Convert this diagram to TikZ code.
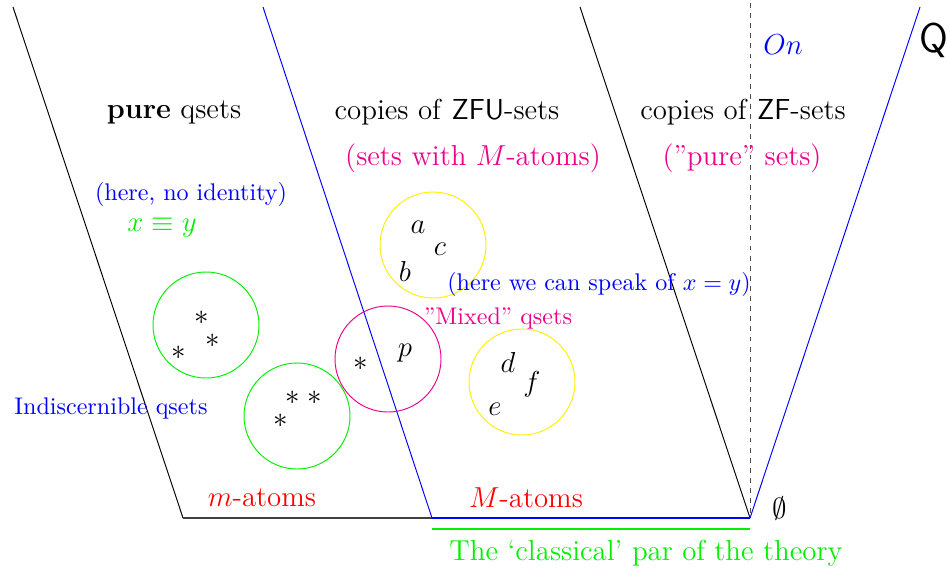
\documentclass[tikz,border=0pt]{standalone}
\usepackage{tikz}
\usetikzlibrary{positioning}
\usepackage{amsmath}
\definecolor{qblue}   {RGB}{0,   0,   255}
\definecolor{qgreen}  {RGB}{0,   240, 0}
\definecolor{qred}    {RGB}{255, 0,   0}
\definecolor{qyellow} {RGB}{255, 240, 0}
\definecolor{qmagenta}{RGB}{236, 0,   140}
\tikzset{
  qset/.style={
    circle, draw, minimum size=1.548cm, inner sep=0pt
  },
  zonelabel/.style={
    font=\large, inner sep=1pt
  },
  remark/.style={
    font=\normalsize, inner sep=1pt
  },
  elem/.style={
    font=\large, inner sep=0pt
  },
}

\begin{document}
\begin{tikzpicture}[x=0.0146cm, y=-0.0146cm]
  \useasboundingbox (0,0) rectangle (950,573);
  % corners of the universe
  \coordinate (tl) at (13,7);
  \coordinate (bl) at (183,518);
  \coordinate (tm) at (263,7);
  \coordinate (bm) at (432,518);
  \coordinate (tr) at (580,7);
  \coordinate (empty) at (750,518);
  \coordinate (tq) at (920,7);
  \coordinate (ontop) at (750,3);
  \coordinate (gl) at (432,529);
  \coordinate (gr) at (750,529);
  \draw (tl) -- (bl);
  \draw[thick, black!75] (bl) -- (bm);
  \draw[qblue] (tm) -- (bm);
  \draw[qblue, thick] (bm) -- (empty);
  \draw (tr) -- (empty);
  \draw[qblue] (empty) -- (tq);
  \draw[black!70, dash pattern=on 2pt off 2.2pt] (ontop) -- (empty);
  \draw[draw=qgreen, semithick] (gl) -- (gr);

  % the qsets
  \node[qset, draw=qgreen] (pureA) at (206,325) {};
  \node[qset, draw=qgreen] (pureB) at (297,416) {};
  \node[qset, draw=qmagenta] (mixed) at (388,359) {};
  \node[qset, draw=qyellow] (zfuA) at (433,245) {};
  \node[qset, draw=qyellow] (zfuB) at (522,382) {};

  \node[elem] (s1) at (202,318) {$*$};
  \node[elem] (s2) at (213,341) {$*$};
  \node[elem] (s3) at (179,353) {$*$};
  \node[elem] (s4) at (293,398) {$*$};
  \node[elem] (s5) at (315,398) {$*$};
  \node[elem] (s6) at (281,421) {$*$};
  \node[elem] (s7) at (361,364) {$*$};
  \node[elem] (p) at (405,353) {$p$};
  \node[elem] (a) at (418,227) {$a$};
  \node[elem] (c) at (440,249) {$c$};
  \node[elem] (b) at (405,271) {$b$};
  \node[elem] (d) at (508,362) {$d$};
  \node[elem] (f) at (532,384) {$f$};
  \node[elem] (e) at (495,409) {$e$};

  % zone labels
  \node[zonelabel] (pure) at (174,112) {\textbf{pure} qsets};
  \node[zonelabel] (zfu) at (447,112) {copies of \textsf{ZFU}-sets};
  \node[zonelabel, text=qmagenta] (zfunote) at (473,158) {(sets with $M$-atoms)};
  \node[zonelabel] (zf) at (743,112) {copies of \textsf{ZF}-sets};
  \node[zonelabel, text=qmagenta] (zfnote) at (742,158)
        {(\textquotedblright pure\textquotedblright{} sets)};
  \node[zonelabel, text=qblue] (on) at (783,45) {$On$};
  \node[font=\LARGE\sffamily] (q) at (934,40) {Q};
  \node[zonelabel] (emptyset) at (780,508) {$\emptyset$};
  \node[zonelabel, text=qred] (matoms) at (262,498) {$m$-atoms};
  \node[zonelabel, text=qred] (Matoms) at (526,498) {$M$-atoms};
  \node[zonelabel, text=qgreen] (classic) at (646,553)
        {The \textquoteleft classical\textquoteright{} par of the theory};

  % remarks
  \node[remark, text=qblue] (noid) at (191,194) {(here, no identity)};
  \node[zonelabel, text=qgreen] (equiv) at (162,228) {$x\equiv y$};
  \node[remark, text=qblue] (speak) at (599,284) {(here we can speak of $x=y$)};
  \node[remark, text=qmagenta] (mixlabel) at (498,318)
        {\textquotedblright Mixed\textquotedblright{} qsets};
  \node[remark, text=qblue] (indisc) at (111,408) {Indiscernible qsets};
\end{tikzpicture}
\end{document}
